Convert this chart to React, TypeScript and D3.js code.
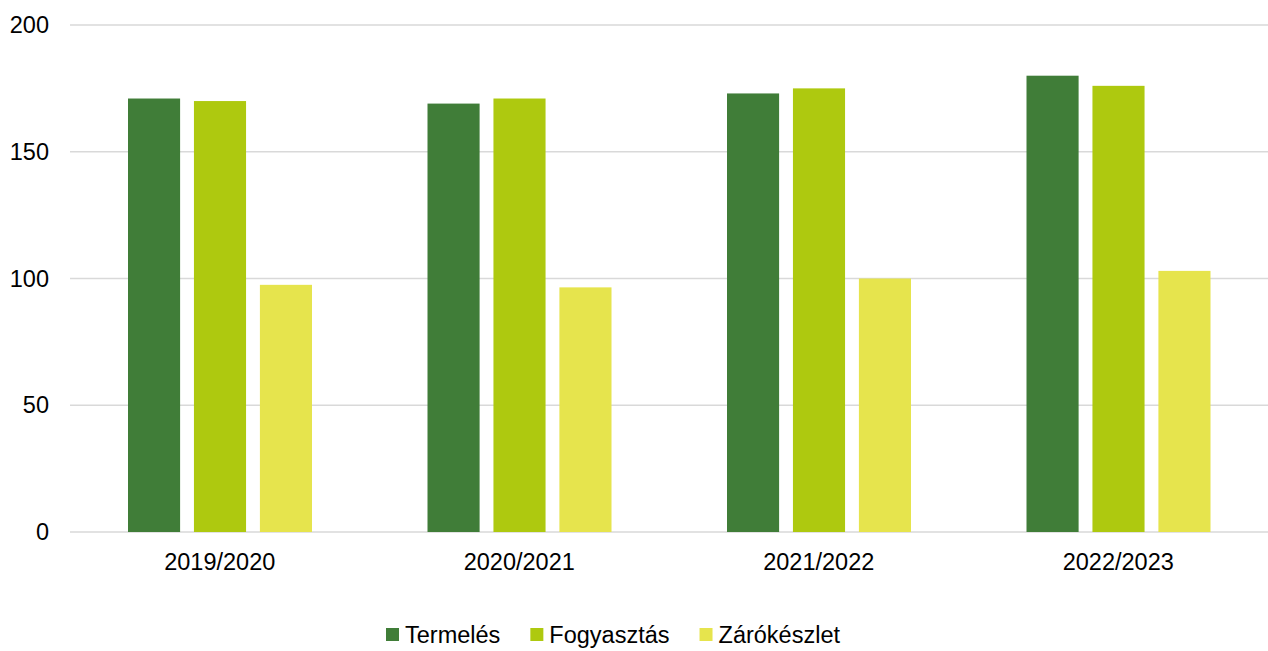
import React, { useRef, useEffect } from 'react';
import * as d3 from 'd3';

const categories = ['2019/2020', '2020/2021', '2021/2022', '2022/2023'];
const seriesNames = ['Termelés', 'Fogyasztás', 'Zárókészlet'];
const termeles = [171, 169, 173, 180];
const fogyasztas = [170, 171, 175, 176];
const zarokeszlet = [97.5, 96.5, 100, 103];
const yTicks = [0, 50, 100, 150, 200];
const colors = ['#407d38', '#aec90f', '#e6e44d'];

export default function App() {
  const ref = useRef<SVGSVGElement>(null);

  useEffect(() => {
    const W = 1268;
    const H = 651;
    const left = 70;
    const right = 1268;
    const top = 25;
    const bottom = 532;
    const font = '"Liberation Sans", Arial, sans-serif';
    const fontSize = '23.5px';

    const svg = d3.select(ref.current);
    svg.selectAll('*').remove();
    svg.attr('width', W).attr('height', H);

    const values = [termeles, fogyasztas, zarokeszlet];
    const data = categories.map((c, i) => ({ cat: c, vals: values.map(v => v[i]) }));

    const x = d3.scaleBand().domain(categories).range([left, right]).padding(0);
    const inner = d3
      .scaleBand()
      .domain(seriesNames)
      .range([58, x.bandwidth() - 57.5])
      .paddingInner(0.21);
    const y = d3.scaleLinear().domain([0, 200]).range([bottom, top]);

    // gridlines
    svg
      .append('g')
      .selectAll('line')
      .data(yTicks)
      .join('line')
      .attr('x1', left)
      .attr('x2', right)
      .attr('y1', d => y(d))
      .attr('y2', d => y(d))
      .attr('stroke', '#d9d9d9')
      .attr('stroke-width', 1.5);

    // y labels
    svg
      .append('g')
      .selectAll('text')
      .data(yTicks)
      .join('text')
      .attr('x', 49)
      .attr('y', d => y(d))
      .attr('dy', '0.35em')
      .attr('text-anchor', 'end')
      .style('font-family', font)
      .style('font-size', fontSize)
      .style('fill', '#000')
      .text(d => d);

    // bars
    const groups = svg
      .append('g')
      .selectAll('g')
      .data(data)
      .join('g')
      .attr('transform', d => `translate(${x(d.cat)},0)`);

    groups
      .selectAll('rect')
      .data(d => d.vals.map((v, i) => ({ name: seriesNames[i], v, i })))
      .join('rect')
      .attr('x', d => inner(d.name)!)
      .attr('width', inner.bandwidth())
      .attr('y', d => y(d.v))
      .attr('height', d => y(0) - y(d.v))
      .attr('fill', d => colors[d.i]);

    // x labels
    svg
      .append('g')
      .selectAll('text')
      .data(categories)
      .join('text')
      .attr('x', d => x(d)! + x.bandwidth() / 2)
      .attr('y', 570)
      .attr('text-anchor', 'middle')
      .style('font-family', font)
      .style('font-size', fontSize)
      .style('fill', '#000')
      .text(d => d);

    // legend
    const legend = svg.append('g');
    const items = legend
      .selectAll('g')
      .data(seriesNames)
      .join('g');
    items
      .append('rect')
      .attr('width', 13)
      .attr('height', 13)
      .attr('y', 628)
      .attr('fill', (d, i) => colors[i]);
    items
      .append('text')
      .attr('x', 19)
      .attr('y', 643)
      .style('font-family', font)
      .style('font-size', fontSize)
      .style('fill', '#000')
      .text(d => d);

    let pos = 0;
    const offsets: number[] = [];
    items.each(function () {
      offsets.push(pos);
      const t = d3.select(this).select('text').node() as SVGTextElement;
      pos += 19 + t.getComputedTextLength() + 30;
    });
    const total = pos - 30;
    const start = 613 - total / 2;
    items.attr('transform', (d, i) => `translate(${start + offsets[i]},0)`);
  }, []);

  return <svg ref={ref} style={{ position: 'absolute', left: 0, top: 0 }} />;
}
